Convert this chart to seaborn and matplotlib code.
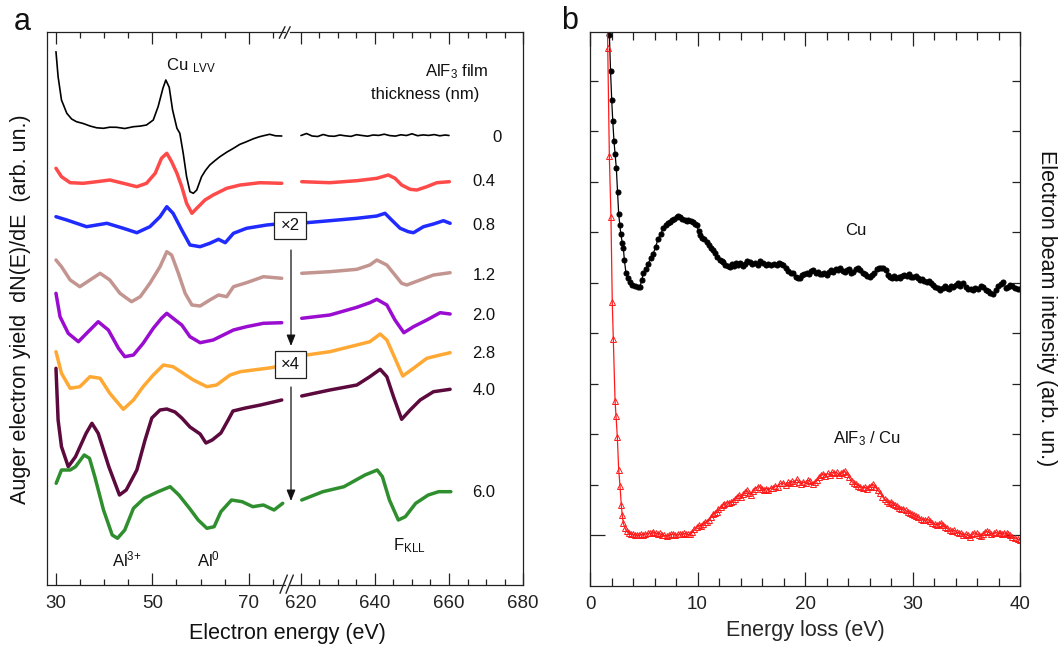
import matplotlib
matplotlib.use("Agg")
import matplotlib.pyplot as plt
from matplotlib.lines import Line2D
from matplotlib.patches import FancyArrowPatch
from matplotlib.ticker import FixedLocator
import seaborn as sns

sns.set_theme(style="ticks")
plt.rcParams["font.family"] = ["Liberation Sans", "DejaVu Sans"]
plt.rcParams["mathtext.fontset"] = "custom"
plt.rcParams["mathtext.rm"] = "Liberation Sans"
plt.rcParams["mathtext.it"] = "Liberation Sans:italic"
plt.rcParams["axes.edgecolor"] = "#222222"
plt.rcParams["xtick.color"] = "#222222"
plt.rcParams["ytick.color"] = "#222222"
plt.rcParams["text.color"] = "#111111"

# ---------------- (a) Auger spectra, stacked by AlF3 thickness ----------------
thickness_labels = ["0", "0.4", "0.8", "1.2", "2.0", "2.8", "4.0", "6.0"]
trace_colors = ["#000000", "#ff4a4a", "#1f2bff", "#c39590", "#9a0ccf",
                "#ffa833", "#5c0a3e", "#2f8f2f"]

# 0 nm
e_lo_00 = [30.06, 30.5, 31.2, 32.3, 33.3, 34.3, 35.7, 37.1, 38.5, 39.9, 41.2, 42.6, 44.3, 46.1, 47.5,
           48.8, 50.2, 51.2, 52.2, 52.8, 53.5, 54.2, 55.1, 55.7, 56.4, 57.1, 57.8, 58.5, 59.2, 60.2,
           61.0, 61.9, 63.0, 64.0, 65.4, 66.8, 68.1, 69.5, 70.9, 72.2, 73.3, 74.3, 75.5, 76.8]
y_lo_00 = [533.3, 508.3, 485, 471.7, 466, 463.3, 461.5, 459, 457.2, 456.7, 457.8, 457.7, 456.5, 458.3, 458.9,
           460, 465, 478.3, 496.7, 505, 497.7, 475, 456.7, 451.7, 431.7, 408.3, 393.3, 391.7, 395, 408.3,
           414.5, 420, 424.5, 428.3, 432.8, 436.7, 440.6, 443.3, 446.2, 448.3, 449.6, 450.7, 449.2, 449]
e_hi_00 = [620, 621.5, 623, 624.5, 626, 627.5, 629, 630.5, 632, 633.5, 635, 636.5, 638, 639.5,
           641, 642.5, 644, 645.5, 647, 648.5, 650, 651.5, 653, 654.5, 656, 657.5, 659, 660]
y_hi_00 = [449.5, 451.5, 449, 448.5, 450.5, 449, 448.7, 450, 449.2, 448.6, 450.3, 449.5, 448.8, 450,
           449.6, 450.8, 449.4, 448.9, 450.2, 449.5, 451.2, 449.3, 450.1, 449.6, 450.4, 449.2, 450, 449.5]

# 0.4 nm
e_lo_04 = [30.06, 31.2, 33.0, 35.7, 38.5, 41.2, 44.0, 46.8, 48.8, 50.6, 51.9, 53.0, 54.0, 55.1, 56.1,
           57.1, 58.2, 59.2, 60.9, 62.6, 65.4, 68.2, 72.3, 76.8]
y_lo_04 = [416.7, 408.3, 402.3, 401.7, 403.3, 405, 401.7, 398.3, 401.7, 411.7, 426.7, 431.7, 423.3, 411.7, 398.3,
           381.7, 371.7, 376.7, 385, 390, 396.7, 400, 402.3, 401.7]
e_hi_04 = [620.2, 627.8, 635.1, 640.5, 643.6, 645.4, 647.2, 649.5, 651.3, 654.0, 656.7, 660.1]
y_hi_04 = [403.3, 402.3, 404.3, 406.7, 410, 406.7, 400, 395.7, 395, 398.3, 402.3, 403.3]

# 0.8 nm
e_lo_08 = [30.06, 32.3, 36.4, 40.6, 44.0, 46.8, 49.5, 51.6, 53.0, 54.3, 56.1, 57.8, 59.9, 61.9, 63.7,
           65.1, 66.8, 69.5, 73.7, 75.8]
y_lo_08 = [368.3, 365, 358.3, 361.7, 356.7, 352.3, 358.3, 368.3, 378.3, 371.7, 355, 340, 338.3, 341.7, 345.7,
           342.3, 351.7, 356.7, 360, 361]
e_hi_08 = [620.2, 621.5, 627.8, 635.1, 640.5, 642.7, 644.5, 646.8, 649.0, 650.4, 653.1, 655.8, 658.5, 660.3]
y_hi_08 = [361.5, 362.3, 364.3, 366.7, 369, 371.7, 365, 356.7, 353.3, 352.3, 358.3, 361, 364.3, 361.7]

# 1.2 nm
e_lo_12 = [30.06, 31.2, 33.0, 35.0, 37.1, 39.2, 41.2, 43.3, 45.7, 47.5, 49.5, 51.6, 53.0, 54.0, 55.4,
           56.8, 58.2, 59.9, 61.9, 63.7, 65.4, 66.8, 69.5, 73.0, 76.8]
y_lo_12 = [325, 318.3, 305, 298.3, 305, 311.7, 305, 291.7, 283.3, 288.3, 301.7, 318.3, 333.3, 330, 311.7,
           291.7, 280, 279, 285, 290, 288.3, 298.3, 302.3, 308.3, 306.7]
e_hi_12 = [620.2, 627.8, 635.1, 638.6, 640.5, 643.2, 645.4, 647.2, 648.6, 652.2, 655.8, 660.3]
y_hi_12 = [311.7, 313.3, 315.7, 320, 325, 320, 310, 301.7, 300, 305, 310, 312.3]

# 2.0 nm
e_lo_20 = [30.06, 30.9, 32.6, 34.7, 36.4, 38.8, 40.9, 43.0, 44.3, 46.1, 48.1, 50.2, 51.9, 53.0, 54.3,
           56.1, 57.8, 59.9, 62.6, 64.7, 66.8, 69.5, 73.0, 76.8]
y_lo_20 = [291.7, 268.3, 251.7, 243.3, 251.7, 263.3, 255, 236.7, 228.3, 230, 241.7, 256.7, 266.7, 271.7, 266.7,
           260, 248.3, 242.3, 245, 250, 255, 258.3, 261.7, 262.3]
e_hi_20 = [620.2, 627.8, 635.1, 638.6, 640.5, 643.2, 645.4, 647.8, 650.4, 654.0, 657.6, 660.3]
y_hi_20 = [266.7, 270, 277.7, 282.3, 285.7, 280, 265, 252.3, 258.3, 265, 272.3, 271]

# 2.8 nm
e_lo_28 = [30.06, 31.2, 33.0, 35.0, 37.1, 39.2, 41.2, 44.0, 46.1, 48.1, 50.2, 52.3, 54.3, 56.4, 58.5,
           61.3, 63.3, 66.1, 68.2, 70.9, 73.7, 75.8]
y_lo_28 = [233.3, 211.7, 196.7, 198.3, 208.3, 206.7, 191.7, 175.7, 185, 198.3, 210, 220, 218.3, 211.7, 205,
           198.3, 200, 210, 213.3, 215, 216.7, 218.3]
e_hi_28 = [620.2, 621.5, 627.8, 635.1, 638.6, 641.4, 643.2, 645.4, 647.5, 650.4, 654.0, 657.6, 660.3]
y_hi_28 = [229.5, 230, 233.3, 240, 243.3, 251, 245, 226.7, 209, 216.7, 226.7, 230, 232.3]

# 4.0 nm
e_lo_40 = [30.06, 30.5, 31.2, 32.6, 34.1, 36.3, 37.5, 38.8, 41.0, 43.2, 44.6, 46.8, 48.5, 49.9, 51.6,
           53.0, 54.7, 56.1, 57.8, 59.9, 61.1, 62.4, 64.2, 65.7, 66.7, 69.3, 72.4, 76.8]
y_lo_40 = [216.7, 165, 138.3, 118.3, 128.3, 151.7, 161.7, 151.7, 118.3, 90, 95, 115, 145, 167, 175,
           176, 173, 167, 158, 151, 142, 145, 152, 165, 174, 177, 180, 185]
e_hi_40 = [620.2, 627.8, 635.1, 638.6, 641.4, 643.2, 645.0, 647.2, 649.5, 652.2, 655.8, 660.3]
y_hi_40 = [189, 195, 200, 208.3, 215.7, 208.3, 188.3, 165.7, 175, 185, 193.3, 195.7]

# 6.0 nm
e_lo_60 = [30.1, 31.2, 33.0, 34.1, 35.9, 37.0, 38.1, 39.9, 41.7, 42.8, 44.3, 46.1, 48.3, 51.2, 53.7,
           55.5, 57.7, 59.5, 61.3, 62.8, 64.2, 66.4, 68.6, 70.8, 73.0, 75.2, 77.0]
y_lo_60 = [101.7, 115, 115, 118.3, 130, 126.7, 108.3, 75, 50, 46.7, 55, 76.7, 86.7, 93.3, 98.3,
           90, 76.7, 65, 56.7, 58.3, 73.3, 85, 83.3, 78.3, 80, 75, 81.7]
e_hi_60 = [620.2, 625.9, 631.6, 637.3, 640.6, 642.0, 643.9, 646.3, 648.2, 651.0, 654.4, 657.2, 660.5]
y_hi_60 = [85, 93.3, 98.3, 110, 115, 108.3, 85, 65, 68.3, 81.7, 90, 93.3, 93.3]

low_traces = [(e_lo_00, y_lo_00), (e_lo_04, y_lo_04), (e_lo_08, y_lo_08), (e_lo_12, y_lo_12),
              (e_lo_20, y_lo_20), (e_lo_28, y_lo_28), (e_lo_40, y_lo_40), (e_lo_60, y_lo_60)]
high_traces = [(e_hi_00, y_hi_00), (e_hi_04, y_hi_04), (e_hi_08, y_hi_08), (e_hi_12, y_hi_12),
               (e_hi_20, y_hi_20), (e_hi_28, y_hi_28), (e_hi_40, y_hi_40), (e_hi_60, y_hi_60)]

# ---------------- (b) electron energy loss spectra ----------------
cu_points = [
    (1.70, 11.6), (1.80, 10.91), (1.91, 10.2), (2.02, 9.62), (2.12, 9.2), (2.23, 8.81), (2.34, 8.55),
    (2.45, 8.27), (2.56, 7.8), (2.67, 7.36), (2.77, 7.15), (2.86, 6.98), (3.0, 6.8), (3.1, 6.69),
    (3.2, 6.45), (3.35, 6.19), (3.5, 6.1), (3.72, 6.02), (3.95, 5.97), (4.19, 5.94), (4.42, 5.92),
    (4.65, 5.92), (4.8, 6.05), (4.96, 6.19), (5.2, 6.28), (5.42, 6.38), (5.65, 6.5), (5.89, 6.58),
    (6.1, 6.72), (6.35, 6.88), (6.6, 6.98), (6.82, 7.08), (7.05, 7.14), (7.25, 7.18), (7.44, 7.21),
    (7.65, 7.25), (7.85, 7.27), (8.05, 7.3), (8.21, 7.33), (8.4, 7.31), (8.6, 7.26), (8.8, 7.25),
    (9.0, 7.22), (9.14, 7.24), (9.35, 7.22), (9.55, 7.2), (9.75, 7.17), (9.93, 7.15), (10.1, 7.02),
    (10.23, 6.95), (10.45, 6.9), (10.65, 6.87), (10.86, 6.82), (11.05, 6.75), (11.25, 6.7),
    (11.45, 6.66), (11.63, 6.6), (11.85, 6.52), (12.05, 6.46), (12.25, 6.44), (12.4, 6.42),
    (12.6, 6.35), (12.8, 6.33), (13.02, 6.32), (13.2, 6.38), (13.4, 6.34), (13.6, 6.4), (13.8, 6.36),
    (13.95, 6.39), (14.2, 6.33), (14.4, 6.37), (14.6, 6.44), (14.88, 6.42), (15.1, 6.37),
    (15.35, 6.4), (15.6, 6.35), (15.85, 6.44), (16.12, 6.39), (16.35, 6.35), (16.6, 6.38),
    (16.85, 6.36), (17.1, 6.37), (17.37, 6.36), (17.6, 6.4), (17.8, 6.37), (17.98, 6.36),
    (18.2, 6.3), (18.45, 6.24), (18.7, 6.2), (18.91, 6.19), (19.15, 6.12), (19.35, 6.1),
    (19.53, 6.09), (19.75, 6.16), (19.95, 6.18), (20.15, 6.2), (20.35, 6.18), (20.55, 6.24),
    (20.77, 6.26), (21.0, 6.2), (21.2, 6.22), (21.4, 6.18), (21.6, 6.17), (21.8, 6.2), (22.02, 6.16),
    (22.25, 6.22), (22.45, 6.25), (22.65, 6.22), (22.85, 6.28), (23.05, 6.26), (23.26, 6.29),
    (23.5, 6.24), (23.7, 6.21), (23.9, 6.26), (24.1, 6.28), (24.3, 6.2), (24.49, 6.22), (24.7, 6.27),
    (24.9, 6.3), (25.12, 6.26), (25.35, 6.2), (25.55, 6.18), (25.8, 6.14), (26.05, 6.12),
    (26.25, 6.16), (26.45, 6.2), (26.7, 6.27), (26.9, 6.29), (27.1, 6.3), (27.28, 6.29), (27.5, 6.26),
    (27.7, 6.16), (27.91, 6.12), (28.1, 6.1), (28.3, 6.13), (28.5, 6.09), (28.7, 6.12), (28.84, 6.09),
    (29.05, 6.13), (29.25, 6.16), (29.45, 6.14), (29.65, 6.17), (29.85, 6.12), (30.07, 6.12),
    (30.3, 6.14), (30.5, 6.1), (30.7, 6.06), (30.9, 6.08), (31.1, 6.04), (31.32, 6.02), (31.5, 6.04),
    (31.7, 6.0), (31.9, 5.96), (32.1, 5.93), (32.35, 5.9), (32.56, 5.86), (32.8, 5.9), (33.0, 5.94),
    (33.2, 5.9), (33.4, 5.88), (33.6, 5.95), (33.8, 5.92), (34.0, 5.96), (34.2, 5.99), (34.45, 5.94),
    (34.73, 5.99), (34.95, 5.92), (35.15, 5.89), (35.4, 5.88), (35.65, 5.86), (35.85, 5.9),
    (36.1, 5.88), (36.35, 5.95), (36.58, 5.92), (36.8, 5.86), (37.0, 5.84), (37.25, 5.8),
    (37.52, 5.79), (37.75, 5.86), (37.95, 5.94), (38.2, 5.98), (38.45, 6.02), (38.7, 5.9),
    (38.9, 5.92), (39.07, 5.96), (39.3, 5.95), (39.55, 5.9), (39.8, 5.89), (40.0, 5.88),
]

alf3_points = [
    (1.60, 11.5), (1.65, 10.66), (1.80, 8.51), (1.95, 7.31), (2.07, 5.63), (2.17, 4.9), (2.33, 3.67),
    (2.42, 3.37), (2.54, 2.96), (2.67, 2.3), (2.79, 1.99), (2.91, 1.6), (3.0, 1.41), (3.1, 1.24),
    (3.25, 1.15), (3.41, 1.08), (3.6, 1.05), (3.8, 1.03), (4.0, 1.02), (4.2, 1.01), (4.34, 1.01),
    (4.55, 1.0), (4.75, 1.02), (4.95, 1.01), (5.15, 1.03), (5.35, 1.04), (5.55, 1.05), (5.75, 1.04),
    (5.89, 1.06), (6.1, 1.05), (6.3, 1.03), (6.5, 1.04), (6.7, 1.01), (6.9, 1.0), (7.13, 0.99),
    (7.35, 1.0), (7.55, 1.02), (7.75, 1.03), (7.95, 1.01), (8.15, 1.02), (8.37, 1.03), (8.55, 1.02),
    (8.75, 1.04), (8.95, 1.03), (9.15, 1.02), (9.3, 1.02), (9.5, 1.06), (9.7, 1.12), (9.93, 1.17),
    (10.15, 1.2), (10.35, 1.19), (10.55, 1.23), (10.7, 1.26), (10.86, 1.27), (11.05, 1.31),
    (11.25, 1.36), (11.45, 1.42), (11.6, 1.45), (11.79, 1.47), (11.95, 1.52), (12.15, 1.56),
    (12.35, 1.6), (12.5, 1.62), (12.72, 1.65), (12.9, 1.64), (13.1, 1.66), (13.3, 1.68), (13.5, 1.72),
    (13.65, 1.77), (13.85, 1.8), (14.05, 1.76), (14.25, 1.82), (14.4, 1.86), (14.58, 1.9),
    (14.75, 1.84), (14.95, 1.8), (15.15, 1.88), (15.35, 1.93), (15.6, 1.96), (15.81, 1.97),
    (16.0, 1.92), (16.2, 1.9), (16.4, 1.93), (16.6, 1.91), (16.85, 1.94), (17.05, 1.94), (17.25, 1.98),
    (17.45, 1.97), (17.7, 2.03), (17.98, 2.04), (18.2, 2.0), (18.4, 2.05), (18.6, 2.03), (18.8, 2.07),
    (19.0, 2.04), (19.23, 2.11), (19.45, 2.05), (19.65, 2.02), (19.85, 2.06), (20.05, 2.04),
    (20.25, 2.1), (20.47, 2.07), (20.7, 2.01), (20.9, 2.05), (21.1, 2.1), (21.3, 2.16), (21.5, 2.19),
    (21.7, 2.22), (21.9, 2.18), (22.1, 2.23), (22.3, 2.2), (22.5, 2.25), (22.7, 2.24), (22.95, 2.25),
    (23.15, 2.2), (23.35, 2.23), (23.55, 2.26), (23.72, 2.27), (23.9, 2.22), (24.1, 2.15),
    (24.34, 2.07), (24.55, 2.04), (24.75, 2.02), (24.95, 1.99), (25.12, 1.97), (25.35, 1.95),
    (25.55, 1.96), (25.75, 1.93), (25.95, 1.97), (26.15, 1.99), (26.35, 2.01), (26.55, 1.96),
    (26.75, 1.9), (26.98, 1.85), (27.2, 1.77), (27.4, 1.72), (27.6, 1.68), (27.8, 1.64), (28.0, 1.67),
    (28.2, 1.62), (28.35, 1.6), (28.53, 1.58), (28.75, 1.55), (28.95, 1.52), (29.15, 1.53),
    (29.35, 1.5), (29.55, 1.47), (29.77, 1.45), (29.95, 1.43), (30.15, 1.4), (30.35, 1.38),
    (30.55, 1.36), (30.8, 1.33), (31.0, 1.31), (31.2, 1.3), (31.4, 1.33), (31.6, 1.28), (31.8, 1.25),
    (32.05, 1.23), (32.25, 1.21), (32.45, 1.22), (32.65, 1.25), (32.85, 1.2), (33.05, 1.16),
    (33.25, 1.14), (33.49, 1.11), (33.7, 1.09), (33.9, 1.1), (34.1, 1.07), (34.3, 1.05), (34.5, 1.04),
    (34.72, 1.01), (34.95, 1.03), (35.15, 1.0), (35.35, 0.98), (35.55, 1.02), (35.75, 1.05),
    (35.96, 1.04), (36.15, 1.01), (36.35, 0.99), (36.55, 1.03), (36.7, 1.07), (36.9, 1.08),
    (37.1, 1.06), (37.3, 1.03), (37.55, 1.04), (37.8, 1.06), (38.0, 1.04), (38.14, 1.04),
    (38.35, 1.02), (38.55, 1.05), (38.75, 1.04), (38.9, 1.02), (39.07, 1.01), (39.3, 0.97),
    (39.55, 0.95), (39.8, 0.93), (40.0, 0.91),
]

cu_loss, cu_intensity = zip(*cu_points)
alf3_loss, alf3_intensity = zip(*alf3_points)

# ---------------- figure ----------------
W, H = 1059, 648
fig = plt.figure(figsize=(W / 100, H / 100), dpi=100)


def fxy(px, py):
    return px / W, 1 - py / H


ax_lo = fig.add_axes([46.7 / W, (H - 585) / H, (285 - 46.7) / W, 553 / H])
ax_hi = fig.add_axes([290 / W, (H - 585) / H, (523.3 - 290) / W, 553 / H])
ax_b = fig.add_axes([590 / W, (H - 586) / H, 430 / W, 554 / H])

for i, color in enumerate(trace_colors):
    lw = 1.2 if i == 0 else 2.5
    for ax, (ex, yy) in ((ax_lo, low_traces[i]), (ax_hi, high_traces[i])):
        sns.lineplot(x=ex, y=yy, ax=ax, color=color, linewidth=lw, sort=False,
                     estimator=None, legend=False)

ax_lo.set_xlim(28.14, 77.47)
ax_hi.set_xlim(617.03, 680.08)
for ax in (ax_lo, ax_hi):
    ax.set_ylim(0, 553)
    ax.set_yticks([])
    ax.set_xlabel("")
    ax.set_ylabel("")
    ax.tick_params(axis="x", which="both", direction="in", top=True, bottom=True,
                   labelsize=13.5, pad=7, width=0.9)
    ax.tick_params(axis="x", which="major", length=8.5)
    ax.tick_params(axis="x", which="minor", length=4.3)
    for s in ax.spines.values():
        s.set_linewidth(0.9)

ax_lo.xaxis.set_major_locator(FixedLocator([30, 50, 70]))
ax_lo.xaxis.set_minor_locator(FixedLocator([35, 40, 45, 55, 60, 65, 75]))
ax_hi.xaxis.set_major_locator(FixedLocator([620, 640, 660, 680]))
ax_hi.xaxis.set_minor_locator(FixedLocator([625, 630, 635, 645, 650, 655, 665, 670, 675]))
ax_lo.spines["right"].set_visible(False)
ax_hi.spines["left"].set_visible(False)

# axis-break marks
for (x0, y0, x1, y1) in [(279.3, 38.3, 285, 26.7), (284.5, 38.3, 290.2, 26.7),
                         (280, 593.3, 287.3, 575), (286, 593.3, 293.3, 575)]:
    (a0, b0), (a1, b1) = fxy(x0, y0), fxy(x1, y1)
    fig.add_artist(Line2D([a0, a1], [b0, b1], transform=fig.transFigure,
                          color="#222222", lw=1.0))

# panel (b)
sns.lineplot(x=list(cu_loss), y=list(cu_intensity), ax=ax_b, color="black", linewidth=0.9,
             marker="o", markersize=3.6, markeredgecolor="black", markerfacecolor="black",
             sort=False, estimator=None, legend=False)
sns.lineplot(x=list(alf3_loss), y=list(alf3_intensity), ax=ax_b, color="#ff1a1a", linewidth=0.9,
             marker="^", markersize=4.8, markeredgecolor="#ff1a1a", markerfacecolor="none",
             markeredgewidth=0.7, sort=False, estimator=None, legend=False)
ax_b.set_xlim(0, 40)
ax_b.set_ylim(0, 10.97)
ax_b.xaxis.set_major_locator(FixedLocator([0, 10, 20, 30, 40]))
ax_b.xaxis.set_minor_locator(FixedLocator([v for v in range(2, 40, 2) if v % 10]))
ax_b.yaxis.set_major_locator(FixedLocator([1]))
ax_b.yaxis.set_minor_locator(FixedLocator(list(range(2, 11))))
ax_b.tick_params(axis="x", which="both", direction="in", top=True, bottom=True,
                 labelsize=13.5, pad=7, width=0.9)
ax_b.tick_params(axis="x", which="major", length=10)
ax_b.tick_params(axis="x", which="minor", length=5.5)
ax_b.tick_params(axis="y", which="both", direction="in", left=True, right=True,
                 labelleft=False, width=0.9)
ax_b.tick_params(axis="y", which="major", length=11)
ax_b.tick_params(axis="y", which="minor", length=5.5)
ax_b.set_xlabel("Energy loss (eV)", fontsize=15.5, labelpad=5)
ax_b.set_ylabel("")
for s in ax_b.spines.values():
    s.set_linewidth(0.9)

# ---------------- text ----------------
def put(px, py, s, **kw):
    x, y = fxy(px, py)
    return fig.text(x, y, s, **kw)


put(22.5, 22, "a", fontsize=22, ha="center", va="center")
put(570, 21, "b", fontsize=22, ha="center", va="center")
put(287, 633, "Electron energy (eV)", fontsize=15.5, ha="center", va="center")
put(21, 309, "Auger electron yield  dN(E)/dE  (arb. un.)", fontsize=15.5,
    rotation=90, ha="center", va="center")
put(1047, 308, "Electron beam intensity (arb. un.)", fontsize=15.5,
    rotation=270, ha="center", va="center")

put(166, 70.7, r"Cu $_{\mathregular{LVV}}$", fontsize=12, ha="left", va="baseline")
put(488, 76, r"AlF$_{\mathregular{3}}$ film", fontsize=12, ha="right", va="baseline")
put(479.3, 99.3, "thickness (nm)", fontsize=12, ha="right", va="baseline")
label_pos = [(496.7, 137.3), (484, 181.7), (484, 225), (484, 275),
             (484, 315), (484, 353.3), (484, 390.7), (484, 492.7)]
for lab, (px, py) in zip(thickness_labels, label_pos):
    put(px, py, lab, fontsize=12, ha="center", va="center")

put(111.7, 566, r"Al$^{\mathregular{3{+}}}$", fontsize=12, ha="left", va="baseline")
put(197, 566, r"Al$^{\mathregular{0}}$", fontsize=12, ha="left", va="baseline")
put(393.3, 550.7, r"F$_{\mathregular{KLL}}$", fontsize=12, ha="left", va="baseline")

put(855.5, 231, "Cu", fontsize=12, ha="center", va="center")
put(867, 443, r"AlF$_{\mathregular{3}}$ / Cu", fontsize=12, ha="center", va="baseline")

# scale-factor boxes and arrows
for (px, py, s) in [(290, 225.3, "\u00d72"), (290, 364, "\u00d74")]:
    put(px, py, s, fontsize=12, ha="center", va="center", zorder=6,
        bbox=dict(boxstyle="square,pad=0.36", facecolor="white",
                  edgecolor="#222222", linewidth=0.9))

for (y0, y1) in [(250, 346), (387, 501)]:
    p0, p1 = fxy(291, y0), fxy(291, y1)
    fig.add_artist(FancyArrowPatch(p0, p1, transform=fig.transFigure,
                                   arrowstyle="-|>,head_length=0.55,head_width=0.22",
                                   mutation_scale=12, color="#111111", lw=0.9,
                                   shrinkA=0, shrinkB=0, zorder=6))

fig.savefig("out.png", dpi=100)
